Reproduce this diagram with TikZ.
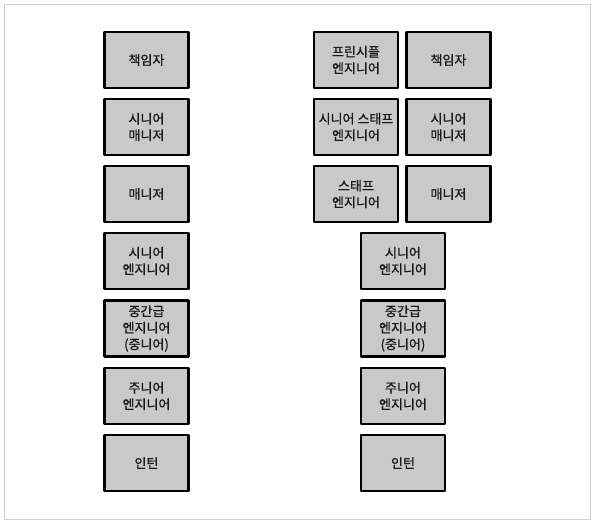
\documentclass[tikz,border=0pt]{standalone}
\usepackage{fontspec}
\newfontfamily\kr[FakeBold=0.8]{Noto Sans CJK KR}
\begin{document}
\begin{tikzpicture}[x=1pt,y=-1pt,
  rolebox/.style={draw=black, line width=2.8pt, fill=boxgray, minimum width=84pt, minimum height=56pt,
    inner sep=0pt, align=center, font=\kr\fontsize{13}{16.5}\selectfont, text=black!90, line join=round},
  frame/.style={draw=framegray, line width=1pt}]
\definecolor{boxgray}{HTML}{C9C9C9}
\definecolor{framegray}{HTML}{CFCFCF}
\useasboundingbox (0,0) rectangle (594,525);
\draw[frame] (4,4) rectangle (590,519);
% left column
\node[rolebox] (l1) at (146.5,60) {책임자};
\node[rolebox] (l2) at (146.5,127) {시니어\\매니저};
\node[rolebox] (l3) at (146.5,194) {매니저};
\node[rolebox] (l4) at (146.5,261) {시니어\\엔지니어};
\node[rolebox] (l5) at (146.5,328.5) {중간급\\엔지니어\\(중니어)};
\node[rolebox] (l6) at (146.5,396) {주니어\\엔지니어};
\node[rolebox] (l7) at (146.5,463) {인턴};
% right column
\node[rolebox] (r1a) at (356,60) {프린시플\\엔지니어};
\node[rolebox] (r1b) at (448.5,60) {책임자};
\node[rolebox] (r2a) at (356,127) {시니어 스태프\\엔지니어};
\node[rolebox] (r2b) at (448.5,127) {시니어\\매니저};
\node[rolebox] (r3a) at (356,194) {스태프\\엔지니어};
\node[rolebox] (r3b) at (448.5,194) {매니저};
\node[rolebox] (r4) at (403,261) {시니어\\엔지니어};
\node[rolebox] (r5) at (403,328.5) {중간급\\엔지니어\\(중니어)};
\node[rolebox] (r6) at (403,396) {주니어\\엔지니어};
\node[rolebox] (r7) at (403,463) {인턴};
\end{tikzpicture}
\end{document}
